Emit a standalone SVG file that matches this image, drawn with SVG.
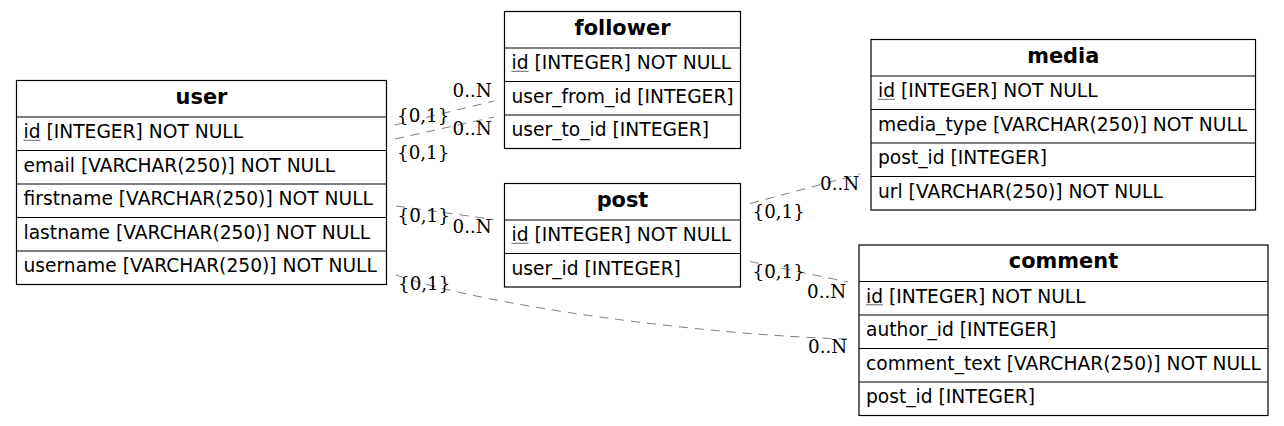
<svg xmlns="http://www.w3.org/2000/svg" width="1284" height="426" viewBox="0 0 1284 426">
<style>
.box{fill:#fff;stroke:#000;stroke-width:1.2}
.sep{stroke:#000;stroke-width:1.2}
.h{font-family:"DejaVu Sans",sans-serif;font-weight:bold;font-size:20.9px;text-anchor:middle;fill:#000}
.r{font-family:"DejaVu Sans",sans-serif;font-size:18.67px;fill:#000}
.lbl{font-family:"DejaVu Serif",serif;font-size:18.3px;fill:#000}
.edge{fill:none;stroke:#808080;stroke-width:1;stroke-dasharray:9,7}
.ul{stroke:#666;stroke-width:1}
</style>
<rect width="1284" height="426" fill="#fff"/>
<g id="connectors">
<path class="edge" d="M395,125 L494,101"/>
<path class="edge" d="M395,139 L494,117"/>
<path class="edge" d="M396,206 L494,219.5"/>
<path class="edge" d="M396,275 C480,305 700,335 848,339"/>
<path class="edge" d="M750,203.5 L860,174"/>
<path class="edge" d="M750,261.5 L848,282"/>
<text class="lbl" x="397" y="122">{0,1}</text>
<text class="lbl" x="452.5" y="97">0..N</text>
<text class="lbl" x="397" y="159">{0,1}</text>
<text class="lbl" x="452.5" y="135">0..N</text>
<text class="lbl" x="397.5" y="222">{0,1}</text>
<text class="lbl" x="452.5" y="233">0..N</text>
<text class="lbl" x="398" y="290">{0,1}</text>
<text class="lbl" x="808" y="352.5">0..N</text>
<text class="lbl" x="752.5" y="218">{0,1}</text>
<text class="lbl" x="820" y="190">0..N</text>
<text class="lbl" x="752.5" y="277.5">{0,1}</text>
<text class="lbl" x="807" y="297.5">0..N</text>
</g>
<g id="user">
<rect class="box" x="16.5" y="80.5" width="370" height="204"/>
<line class="sep" x1="16.5" y1="117" x2="386.5" y2="117"/>
<line class="sep" x1="16.5" y1="150.5" x2="386.5" y2="150.5"/>
<line class="sep" x1="16.5" y1="184" x2="386.5" y2="184"/>
<line class="sep" x1="16.5" y1="217.5" x2="386.5" y2="217.5"/>
<line class="sep" x1="16.5" y1="251" x2="386.5" y2="251"/>
<text class="h" x="201.5" y="103.5">user</text>
<text class="r" x="23.5" y="138.3">id [INTEGER] NOT NULL</text>
<line class="ul" x1="23.5" y1="140.3" x2="40.5" y2="140.3"/>
<text class="r" x="23.5" y="171.8">email [VARCHAR(250)] NOT NULL</text>
<text class="r" x="23.5" y="205.3">firstname [VARCHAR(250)] NOT NULL</text>
<text class="r" x="23.5" y="238.8">lastname [VARCHAR(250)] NOT NULL</text>
<text class="r" x="23.5" y="272.3">username [VARCHAR(250)] NOT NULL</text>
</g>
<g id="follower">
<rect class="box" x="504.5" y="11.5" width="236" height="137"/>
<line class="sep" x1="504.5" y1="48" x2="740.5" y2="48"/>
<line class="sep" x1="504.5" y1="81.5" x2="740.5" y2="81.5"/>
<line class="sep" x1="504.5" y1="115" x2="740.5" y2="115"/>
<text class="h" x="622.5" y="34.5">follower</text>
<text class="r" x="511.5" y="69.3">id [INTEGER] NOT NULL</text>
<line class="ul" x1="511.5" y1="71.3" x2="528.5" y2="71.3"/>
<text class="r" x="511.5" y="102.8">user_from_id [INTEGER]</text>
<text class="r" x="511.5" y="136.3">user_to_id [INTEGER]</text>
</g>
<g id="post">
<rect class="box" x="504.5" y="183.5" width="236" height="103.5"/>
<line class="sep" x1="504.5" y1="220" x2="740.5" y2="220"/>
<line class="sep" x1="504.5" y1="253.5" x2="740.5" y2="253.5"/>
<text class="h" x="622.5" y="206.5">post</text>
<text class="r" x="511.5" y="241.3">id [INTEGER] NOT NULL</text>
<line class="ul" x1="511.5" y1="243.3" x2="528.5" y2="243.3"/>
<text class="r" x="511.5" y="274.8">user_id [INTEGER]</text>
</g>
<g id="media">
<rect class="box" x="871" y="39.5" width="384.5" height="170.5"/>
<line class="sep" x1="871" y1="76" x2="1255.5" y2="76"/>
<line class="sep" x1="871" y1="109.5" x2="1255.5" y2="109.5"/>
<line class="sep" x1="871" y1="143" x2="1255.5" y2="143"/>
<line class="sep" x1="871" y1="176.5" x2="1255.5" y2="176.5"/>
<text class="h" x="1063.25" y="62.5">media</text>
<text class="r" x="878" y="97.3">id [INTEGER] NOT NULL</text>
<line class="ul" x1="878" y1="99.3" x2="895" y2="99.3"/>
<text class="r" x="878" y="130.8">media_type [VARCHAR(250)] NOT NULL</text>
<text class="r" x="878" y="164.3">post_id [INTEGER]</text>
<text class="r" x="878" y="197.8">url [VARCHAR(250)] NOT NULL</text>
</g>
<g id="comment">
<rect class="box" x="859" y="245" width="409" height="170.5"/>
<line class="sep" x1="859" y1="281.5" x2="1268" y2="281.5"/>
<line class="sep" x1="859" y1="315" x2="1268" y2="315"/>
<line class="sep" x1="859" y1="348.5" x2="1268" y2="348.5"/>
<line class="sep" x1="859" y1="382" x2="1268" y2="382"/>
<text class="h" x="1063.5" y="268">comment</text>
<text class="r" x="866" y="302.8">id [INTEGER] NOT NULL</text>
<line class="ul" x1="866" y1="304.8" x2="883" y2="304.8"/>
<text class="r" x="866" y="336.3">author_id [INTEGER]</text>
<text class="r" x="866" y="369.8">comment_text [VARCHAR(250)] NOT NULL</text>
<text class="r" x="866" y="403.3">post_id [INTEGER]</text>
</g>
</svg>
